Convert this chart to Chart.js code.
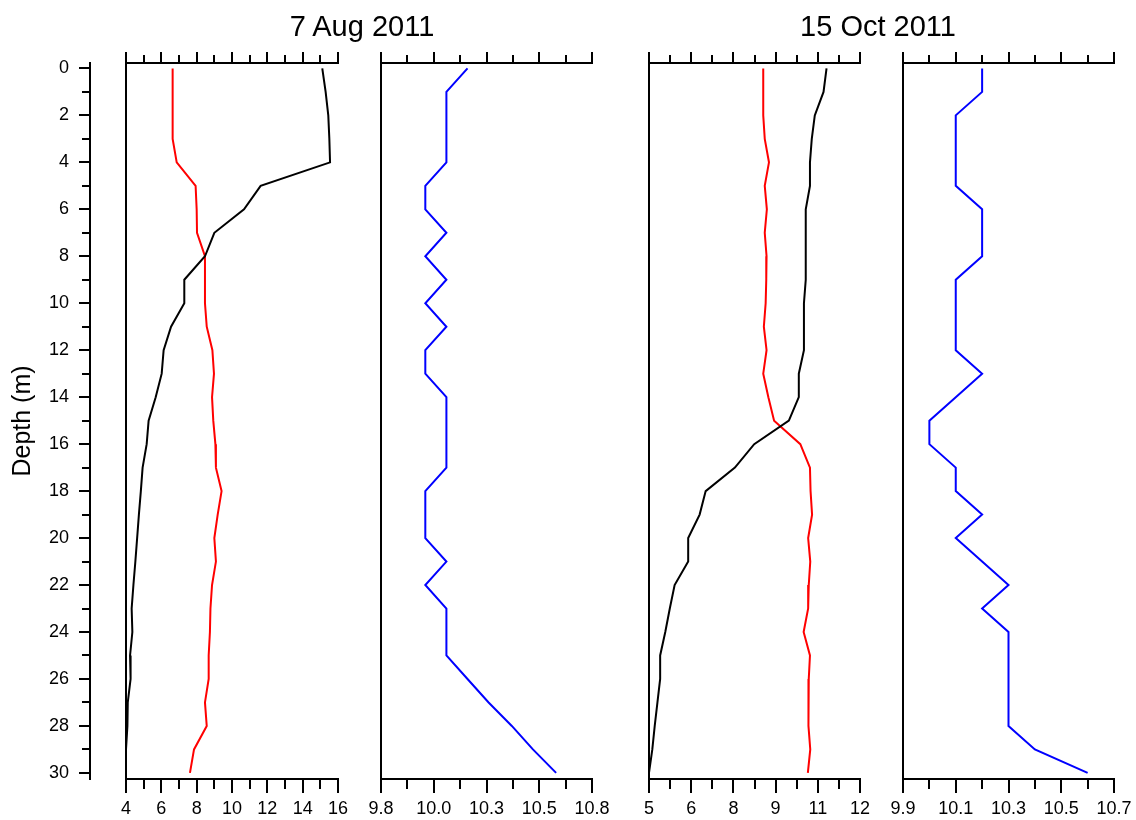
<!DOCTYPE html>
<html>
<head>
<meta charset="utf-8">
<script src="https://cdn.jsdelivr.net/npm/chart.js@4.4.1/dist/chart.umd.min.js"></script>
<style>
  body {
    margin: 0;
    width: 1136px;
    height: 820px;
    position: relative;
    overflow: hidden;
    background: #fff;
    font-family: "Liberation Sans", Arial, sans-serif;
  }
  canvas {
    position: absolute;
    top: 0;
  }
  .title {
    position: absolute;
    top: 10px;
    z-index: 2;
    font-size: 29px;
    color: #000;
    white-space: nowrap;
    transform: translateX(-50%);
  }
</style>
</head>
<body>
<div class="title" style="left: 362px">7 Aug 2011</div>
<div class="title" style="left: 878px">15 Oct 2011</div>
<canvas id="augTemp" width="368" height="820" style="left: 0px"></canvas>
<canvas id="augBlue" width="271" height="820" style="left: 351px"></canvas>
<canvas id="octTemp" width="271" height="820" style="left: 619px"></canvas>
<canvas id="octBlue" width="271" height="820" style="left: 873px"></canvas>
<script>
const depths = [0, 1, 2, 3, 4, 5, 6, 7, 8, 9, 10, 11, 12, 13, 14, 15, 16, 17, 18, 19, 20, 21, 22, 23, 24, 25, 26, 27, 28, 29, 30];

// 7 Aug 2011
const augBlack = [15.11, 15.3, 15.45, 15.51, 15.55, 11.62, 10.68, 9.0, 8.47, 7.3, 7.3, 6.55, 6.13, 6.02, 5.68, 5.28, 5.17, 4.94, 4.84, 4.73, 4.63, 4.53, 4.42, 4.32, 4.36, 4.23, 4.26, 4.1, 4.08, 4.0, 4.0];
const augRed = [6.64, 6.64, 6.64, 6.64, 6.87, 7.94, 8.0, 8.02, 8.47, 8.47, 8.47, 8.57, 8.89, 8.98, 8.87, 8.94, 9.06, 9.09, 9.41, 9.19, 9.0, 9.09, 8.87, 8.78, 8.75, 8.68, 8.68, 8.47, 8.57, 7.85, 7.62];
const augBlue = [10.21, 10.11, 10.11, 10.11, 10.11, 10.01, 10.01, 10.11, 10.01, 10.11, 10.01, 10.11, 10.01, 10.01, 10.11, 10.11, 10.11, 10.11, 10.01, 10.01, 10.01, 10.11, 10.01, 10.11, 10.11, 10.11, 10.21, 10.31, 10.42, 10.52, 10.63];

// 15 Oct 2011
const octBlack = [10.89, 10.79, 10.5, 10.4, 10.34, 10.34, 10.2, 10.2, 10.2, 10.2, 10.14, 10.14, 10.14, 9.97, 9.97, 9.64, 8.49, 7.85, 6.88, 6.68, 6.3, 6.3, 5.85, 5.69, 5.54, 5.37, 5.37, 5.28, 5.19, 5.11, 5.0];
const octRed = [8.79, 8.79, 8.79, 8.84, 8.98, 8.84, 8.91, 8.84, 8.9, 8.89, 8.87, 8.81, 8.9, 8.79, 8.96, 9.15, 10.02, 10.34, 10.36, 10.41, 10.28, 10.35, 10.3, 10.28, 10.13, 10.34, 10.3, 10.3, 10.28, 10.35, 10.27];
const octBlue = [10.2, 10.2, 10.1, 10.1, 10.1, 10.1, 10.2, 10.2, 10.2, 10.1, 10.1, 10.1, 10.1, 10.2, 10.1, 10.0, 10.0, 10.1, 10.1, 10.2, 10.1, 10.2, 10.3, 10.2, 10.3, 10.3, 10.3, 10.3, 10.3, 10.4, 10.6];

// axes
const depthRange = [-0.23, 30.26];
const depthTicks = [0, 2, 4, 6, 8, 10, 12, 14, 16, 18, 20, 22, 24, 26, 28, 30];
const depthMinor = depths;

const augTempTicks = [4, 6, 8, 10, 12, 14, 16];
const augTempMinor = [4, 5, 6, 7, 8, 9, 10, 11, 12, 13, 14, 15, 16];
const augTempLabels = ["4", "6", "8", "10", "12", "14", "16"];

const augBlueTicks = [9.8, 10.05, 10.3, 10.55, 10.8];
const augBlueMinor = [9.8, 9.925, 10.05, 10.175, 10.3, 10.425, 10.55, 10.675, 10.8];
const augBlueLabels = ["9.8", "10.0", "10.3", "10.5", "10.8"];

const octTempTicks = [5, 6.4, 7.8, 9.2, 10.6, 12];
const octTempMinor = [5, 5.7, 6.4, 7.1, 7.8, 8.5, 9.2, 9.9, 10.6, 11.3, 12];
const octTempLabels = ["5", "6", "8", "9", "11", "12"];

const octBlueTicks = [9.9, 10.1, 10.3, 10.5, 10.7];
const octBlueMinor = [9.9, 10.0, 10.1, 10.2, 10.3, 10.4, 10.5, 10.6, 10.7];
const octBlueLabels = ["9.9", "10.1", "10.3", "10.5", "10.7"];

Chart.defaults.font.family = '"Liberation Sans", Arial, sans-serif';
Chart.defaults.color = "#000";

const profile = (values) => values.map((v, i) => ({ x: v, y: depths[i] }));
const at = (values) => (scale) => {
  scale.ticks = values.map((value) => ({ value }));
};
const fixed = (size) => (scale) => {
  if (scale.isHorizontal()) scale.height = size;
  else scale.width = size;
};
const marks = (length) => ({
  display: true,
  drawOnChartArea: false,
  drawTicks: true,
  tickLength: length,
  tickWidth: 2,
  tickColor: "#000",
  color: "#000",
  lineWidth: 2,
});
const line = { display: true, color: "#000", width: 2 };

const xScales = (range, majors, minors, labels) => ({
  x: {
    type: "linear", axis: "x", position: "bottom", weight: 1,
    min: range[0], max: range[1],
    afterBuildTicks: at(majors), afterFit: fixed(41),
    border: line, grid: marks(14),
    ticks: {
      autoSkip: false, maxRotation: 0, padding: 5,
      font: { size: 18 },
      callback: (v, i) => labels[i],
    },
  },
  xMinor: {
    type: "linear", axis: "x", position: "bottom", weight: 0,
    min: range[0], max: range[1],
    afterBuildTicks: at(minors), afterFit: fixed(0),
    border: { display: false }, grid: marks(10), ticks: { display: false },
  },
  xTop: {
    type: "linear", axis: "x", position: "top", weight: 1,
    min: range[0], max: range[1],
    afterBuildTicks: at(majors), afterFit: fixed(63),
    border: line, grid: marks(11), ticks: { display: false },
  },
  xTopMinor: {
    type: "linear", axis: "x", position: "top", weight: 0,
    min: range[0], max: range[1],
    afterBuildTicks: at(minors), afterFit: fixed(0),
    border: { display: false }, grid: marks(8), ticks: { display: false },
  },
});

const edgeAxis = (width, weight) => ({
  type: "linear", axis: "y", position: "left", weight: weight, reverse: true,
  min: depthRange[0], max: depthRange[1],
  afterFit: fixed(width),
  border: line, grid: { display: false }, ticks: { display: false },
});

const depthScales = {
  y: {
    type: "linear", axis: "y", position: "left", weight: 2, reverse: true,
    min: depthRange[0], max: depthRange[1],
    afterBuildTicks: at(depthTicks), afterFit: fixed(90),
    border: line, grid: marks(11),
    ticks: { autoSkip: false, padding: 10, font: { size: 18 } },
    title: {
      display: true,
      text: "Depth (m)",
      font: { size: 25 },
      padding: { top: 8, bottom: 0 },
    },
  },
  yMinor: {
    type: "linear", axis: "y", position: "left", weight: 1, reverse: true,
    min: depthRange[0], max: depthRange[1],
    afterBuildTicks: at(depthMinor), afterFit: fixed(0),
    border: line, grid: marks(8), ticks: { display: false },
  },
  yEdge: edgeAxis(36, 0),
};

const series = (values, color) => ({
  data: profile(values),
  borderColor: color,
  borderWidth: 2,
  fill: false,
  xAxisID: "x",
  yAxisID: "y",
});

const drawPanel = (id, datasets, scales, padLeft) => {
  new Chart(document.getElementById(id), {
    type: "line",
    data: { datasets },
    options: {
      responsive: false,
      animation: false,
      devicePixelRatio: 1,
      indexAxis: "y",
      layout: { padding: { left: padLeft, right: 30, top: 0, bottom: 0 } },
      elements: { point: { radius: 0 }, line: { tension: 0 } },
      plugins: { legend: { display: false }, tooltip: { enabled: false } },
      scales,
    },
  });
};

drawPanel(
  "augTemp",
  [series(augBlack, "#000"), series(augRed, "#ff0000")],
  { ...xScales([4, 16], augTempTicks, augTempMinor, augTempLabels), ...depthScales },
  0
);
drawPanel(
  "augBlue",
  [series(augBlue, "#0000ff")],
  { ...xScales([9.8, 10.8], augBlueTicks, augBlueMinor, augBlueLabels), y: edgeAxis(0, 0) },
  30
);
drawPanel(
  "octTemp",
  [series(octBlack, "#000"), series(octRed, "#ff0000")],
  { ...xScales([5, 12], octTempTicks, octTempMinor, octTempLabels), y: edgeAxis(0, 0) },
  30
);
drawPanel(
  "octBlue",
  [series(octBlue, "#0000ff")],
  { ...xScales([9.9, 10.7], octBlueTicks, octBlueMinor, octBlueLabels), y: edgeAxis(0, 0) },
  30
);
</script>
</body>
</html>
